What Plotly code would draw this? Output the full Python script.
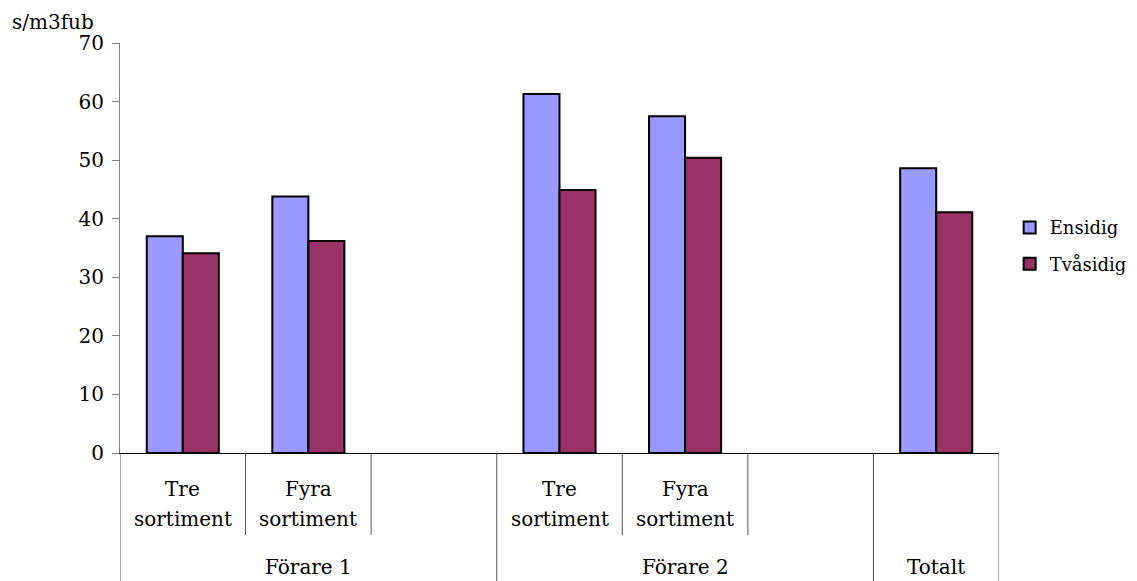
import plotly.graph_objects as go

positions = [0, 1, 2, 3, 4, 5, 6]
sub_line1 = ["Tre", "Fyra", "", "Tre", "Fyra", "", ""]
sub_line2 = ["sortiment", "sortiment", "", "sortiment", "sortiment", "", ""]
group_labels = ["Förare 1", "Förare 2", "Totalt"]
group_centers = [1, 4, 6]
ensidig = [37.0, 43.8, None, 61.3, 57.5, None, 48.6]
tvasidig = [34.1, 36.2, None, 44.9, 50.4, None, 41.1]

FONT = "DejaVu Serif"
FS = 20

fig = go.Figure()
fig.add_trace(go.Bar(x=positions, y=ensidig, name="Ensidig", legendgroup="a",
                     marker=dict(color="#9999FF", line=dict(color="black", width=2))))
fig.add_trace(go.Bar(x=positions, y=tvasidig, name="Tvåsidig", legendgroup="b",
                     marker=dict(color="#993366", line=dict(color="black", width=2))))

shapes = []
for b in [0.5, 1.5, 3.5, 4.5]:
    shapes.append(dict(type="line", xref="x", yref="paper", x0=b, x1=b, y0=0, y1=-0.2,
                       line=dict(color="#555555", width=1)))
for b in [-0.5, 2.5, 5.5, 6.5]:
    shapes.append(dict(type="line", xref="x", yref="paper", x0=b, x1=b, y0=0, y1=-0.35,
                       line=dict(color="#555555", width=1)))

annotations = []
for p, t1, t2 in zip(positions, sub_line1, sub_line2):
    if t1:
        annotations.append(dict(x=p, y=-0.088, xref="x", yref="paper", text=t1, showarrow=False,
                                font=dict(family=FONT, size=FS, color="black"), yanchor="middle"))
    if t2:
        annotations.append(dict(x=p, y=-0.161, xref="x", yref="paper", text=t2, showarrow=False,
                                font=dict(family=FONT, size=FS, color="black"), yanchor="middle"))
for c, t in zip(group_centers, group_labels):
    annotations.append(dict(x=c, y=-0.278, xref="x", yref="paper", text=t, showarrow=False,
                            font=dict(family=FONT, size=FS, color="black"), yanchor="middle"))
annotations.append(dict(x=-0.125, y=1.051, xref="paper", yref="paper", text="s/m3fub",
                        showarrow=False, xanchor="left", yanchor="middle",
                        font=dict(family=FONT, size=FS, color="black")))

fig.update_layout(
    width=1137, height=581,
    margin=dict(l=120, r=138, t=43, b=128, autoexpand=False),
    paper_bgcolor="white", plot_bgcolor="white",
    barmode="group", bargap=0.426, bargroupgap=0,
    font=dict(family=FONT, size=FS, color="black"),
    shapes=shapes, annotations=annotations,
    legend=dict(x=0.888, y=0.577, xref="container", yref="container", xanchor="left", yanchor="middle",
                font=dict(family=FONT, size=18, color="black"), tracegroupgap=10),
    xaxis=dict(range=[-0.5, 6.5], showticklabels=False, showgrid=False, zeroline=False,
               showline=True, linecolor="black", linewidth=1, ticks=""),
    yaxis=dict(range=[0, 70], dtick=10, showgrid=False, zeroline=False,
               showline=True, linecolor="#808080", linewidth=1,
               ticks="outside", ticklen=7, tickcolor="#808080", ticklabelstandoff=4,
               tickfont=dict(family=FONT, size=FS, color="black")),
)

fig.write_html("out.html")
